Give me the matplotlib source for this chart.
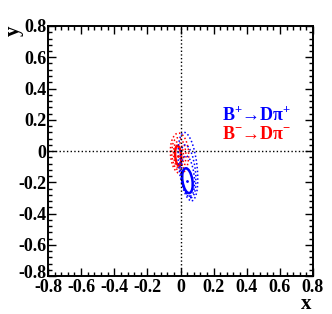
import matplotlib
matplotlib.use('Agg')
import matplotlib.pyplot as plt
import matplotlib.ticker as plticker
import matplotlib.transforms as mtransforms
from matplotlib.patches import Ellipse

plt.rcParams['font.family'] = ['Liberation Serif', 'DejaVu Serif']
plt.rcParams['font.weight'] = 'bold'
plt.rcParams['mathtext.fontset'] = 'custom'
plt.rcParams['mathtext.rm'] = 'Liberation Serif'
plt.rcParams['mathtext.bf'] = 'Liberation Serif:bold'

# contour ellipses: centre x, centre y, width, height, angle, solid?
bp_cx = [0.042, 0.045, 0.045, 0.045]
bp_cy = [-0.19, -0.16, -0.13, -0.10]
bp_w = [0.060, 0.075, 0.090, 0.110]
bp_h = [0.160, 0.260, 0.340, 0.440]
bp_ang = [8, 6, 6, 6]
bp_solid = [True, False, False, False]

bm_cx = [-0.014, -0.012, -0.010, -0.006]
bm_cy = [-0.030, -0.025, -0.020, -0.015]
bm_w = [0.036, 0.060, 0.085, 0.110]
bm_h = [0.128, 0.170, 0.210, 0.260]
bm_ang = [4, 3, 3, 3]
bm_solid = [True, False, False, False]

ticks = [-0.8, -0.6, -0.4, -0.2, 0, 0.2, 0.4, 0.6, 0.8]
tick_labels = ['-0.8', '-0.6', '-0.4', '-0.2', '0', '0.2', '0.4', '0.6', '0.8']


def draw_contours(ax, cx, cy, w, h, ang, solid, color):
    for i in range(len(cx)):
        ls = '-' if solid[i] else (0, (1, 1.5))
        lw = 1.8 if solid[i] else 1.1
        ax.add_patch(Ellipse((cx[i], cy[i]), w[i], h[i], angle=ang[i],
                             fill=False, edgecolor=color, linestyle=ls, linewidth=lw))
    ax.plot([cx[0]], [cy[0]], marker='.', color=color, markersize=2)


fig = plt.figure(figsize=(3.32, 3.14), dpi=100)
# frame: left 48px, right 313px, top 26px, bottom 276px
ax = fig.add_axes([48 / 332, 1 - 276 / 314, 265 / 332, 250 / 314])
ax.set_xlim(-0.8, 0.8)
ax.set_ylim(-0.8, 0.8)

ax.axhline(0, color='black', linestyle=':', linewidth=1.0)
ax.axvline(0, color='black', linestyle=':', linewidth=1.0)

draw_contours(ax, bm_cx, bm_cy, bm_w, bm_h, bm_ang, bm_solid, '#ff0000')
draw_contours(ax, bp_cx, bp_cy, bp_w, bp_h, bp_ang, bp_solid, '#0000ff')

ax.text(0.25, 0.19, 'B$^{\\mathbf{+}}$\u2192D\u03c0$^{\\mathbf{+}}$', color='#0000ff', fontsize=13)
ax.text(0.25, 0.075, 'B$^{\\mathbf{-}}$\u2192D\u03c0$^{\\mathbf{-}}$', color='#ff0000', fontsize=13)

ax.set_xticks(ticks)
ax.set_xticklabels(tick_labels)
ax.set_yticks(ticks)
ax.set_yticklabels(tick_labels)
ax.xaxis.set_minor_locator(plticker.MultipleLocator(0.04))
ax.yaxis.set_minor_locator(plticker.MultipleLocator(0.04))
ax.tick_params(axis='both', which='both', direction='in', top=True, right=True,
               labelsize=13, width=1.0)
ax.tick_params(axis='both', which='major', length=6)
ax.tick_params(axis='both', which='minor', length=3)
ax.tick_params(axis='x', pad=2)
ax.tick_params(axis='y', pad=1)
for s in ax.spines.values():
    s.set_linewidth(1.4)

# nudge the lowest y label up a little so it clears the x labels
low = ax.get_yticklabels()[0]
low.set_transform(low.get_transform() + mtransforms.ScaledTranslation(0, 3.5 / 72, fig.dpi_scale_trans))

fig.text(0.905, 0.0, 'x', fontsize=15, fontweight='bold', ha='left', va='bottom')
fig.text(0.01, 0.918, 'y', fontsize=15, fontweight='bold', rotation=90, ha='left', va='top')

fig.savefig('out.png', dpi=100)
